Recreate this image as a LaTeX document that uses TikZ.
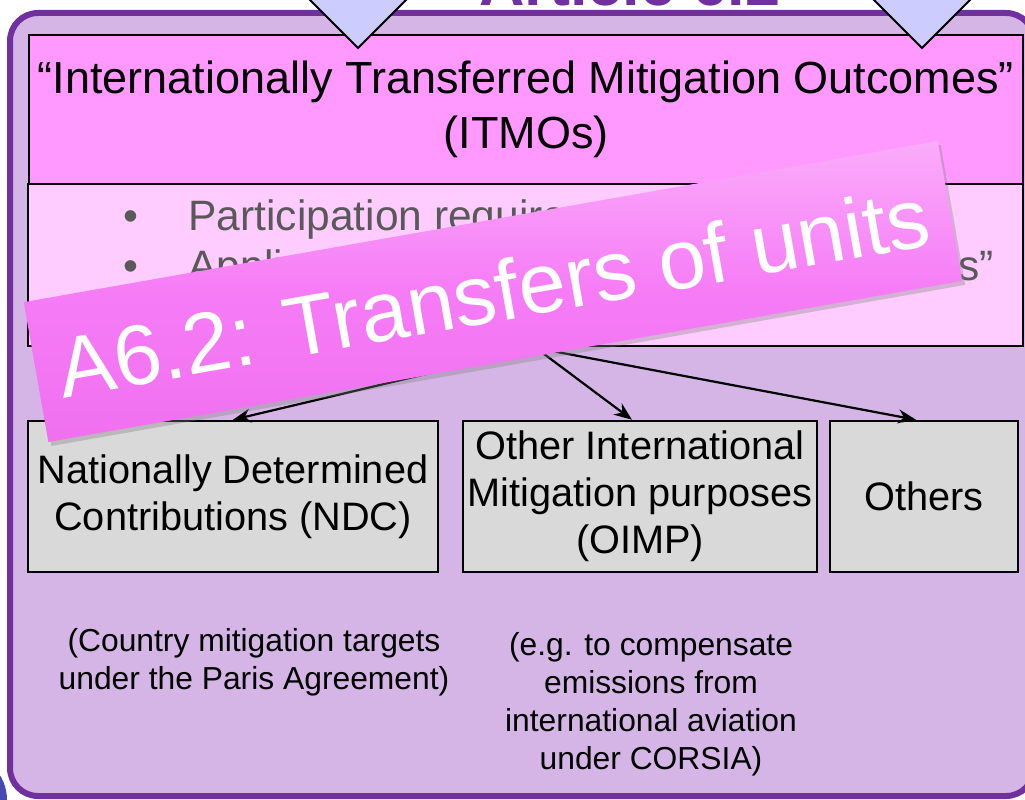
\documentclass[tikz,border=0pt]{standalone}
\usepackage{fontspec}
\setmainfont{Liberation Sans}
\usepackage{xcolor}
\usetikzlibrary{arrows.meta,shadows}

\definecolor{panelfill}{RGB}{213,181,230}
\definecolor{panelline}{RGB}{112,48,160}
\definecolor{itmofill}{RGB}{255,153,255}
\definecolor{bulletfill}{RGB}{255,204,255}
\definecolor{boxfill}{RGB}{217,217,217}
\definecolor{trifill}{RGB}{204,204,255}
\definecolor{bulletgray}{RGB}{89,89,89}
\definecolor{bannertop}{RGB}{250,172,250}
\definecolor{bannermid}{RGB}{246,124,246}
\definecolor{bannerbot}{RGB}{240,112,240}
\definecolor{cornerblue}{RGB}{70,72,180}

\begin{document}
\begin{tikzpicture}[x=1pt, y=-1pt,
  box/.style={draw=black, line width=2.5pt, inner sep=0pt},
  grey/.style={box, fill=boxfill, align=center, minimum height=151pt, font=\fontsize{39.7}{47}\selectfont},
  note/.style={align=center, font=\fontsize{31.8}{38}\selectfont},
  bul/.style={anchor=base west, text=bulletgray, font=\fontsize{42.5}{50}\selectfont},
  blockhead/.style={draw=black, fill=trifill, line width=2pt},
  link/.style={-{Stealth[length=18pt,width=14pt]}, line width=2.2pt}]
\useasboundingbox (0,0) rectangle (1025,800);

\fill [cornerblue] (-40,800) circle (47);
\draw [panelline, fill=panelfill, line width=6pt, rounded corners=28pt] (10,13) rectangle (1034,796);

\node (title) at (630,6) [anchor=base, text=panelline, font=\bfseries\fontsize{63}{70}\selectfont] {Article 6.2};

\node (itmo) at (526,109.5) [box, fill=itmofill, minimum width=994pt, minimum height=149pt, align=center, font=\fontsize{45}{55}\selectfont] {“Internationally Transferred Mitigation Outcomes”\\(ITMOs)};

\foreach \tx in {358,922}
  \draw [blockhead] (\tx-62,-14) -- (\tx,48) -- (\tx+62,-14) -- cycle;

\node (bul) at (525.5,265) [box, fill=bulletfill, minimum width=995pt, minimum height=162pt] {};
\node (dotA) at (131,230) [bul, anchor=base] {•};
\node (dotB) at (131,280) [bul, anchor=base] {•};
\node (partic) at (185,230) [bul] {Participation requirements};
\node (applic) at (185,280) [bul] {Application of “corresponding adjustments”};

\coordinate (fork) at (536,348);
\node (ndc) at (233,496.5) [grey, minimum width=410pt] {Nationally Determined\\Contributions (NDC)};
\node (oimp) at (640,496.5) [grey, minimum width=354pt] {Other International\\Mitigation purposes\\(OIMP)};
\node (others) at (924,496.5) [grey, minimum width=188pt] {Others};

\draw [link] (fork) -- (ndc.north);
\draw [link] (fork) -- ([xshift=-8pt]oimp.north);
\draw [link] (fork) -- ([xshift=-8pt]others.north);

\node (ndcnote) at (254,662) [note] {(Country mitigation targets\\under the Paris Agreement)};
\node (oimpnote) at (651,704) [note] {(e.g. to compensate\\emissions from\\international aviation\\under CORSIA)};

\node (banner) at (493,291.5) [rotate=10, minimum width=928pt, minimum height=142pt, inner sep=0pt, top color=bannertop, bottom color=bannerbot, middle color=bannermid, drop shadow={opacity=0.35, shadow xshift=3pt, shadow yshift=-4pt}, text=white, font=\fontsize{85}{90}\selectfont] {A6.2: Transfers of units};
\end{tikzpicture}
\end{document}
